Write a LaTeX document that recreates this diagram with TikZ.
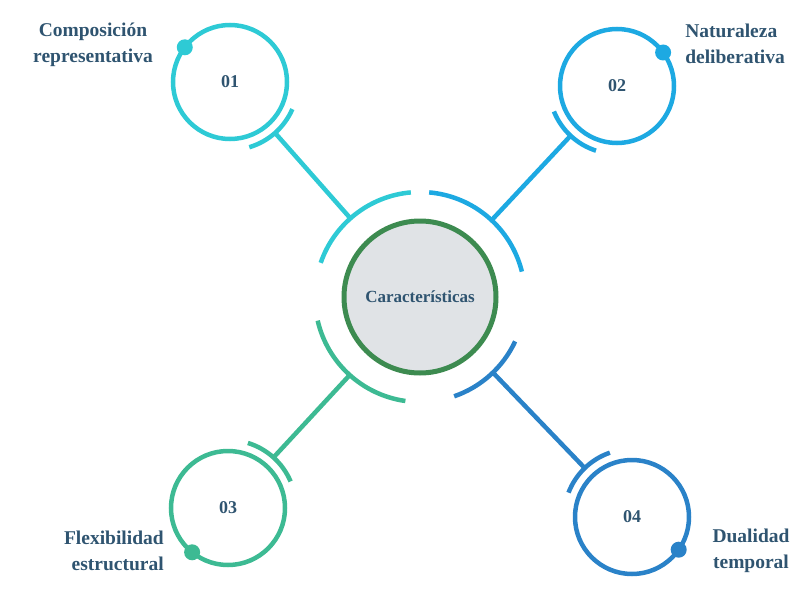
\documentclass[tikz,border=0pt]{standalone}
\usepackage{fontspec}
\setmainfont{Liberation Serif}
\begin{document}
\begin{tikzpicture}[x=1pt,y=-1pt,line width=4.5pt,
  lbl/.style={font=\bfseries\fontsize{19.5}{26}\selectfont,text=txt,align=center,inner sep=0},
  num/.style={font=\bfseries\fontsize{18}{20}\selectfont,text=txt}]
\definecolor{txt}{HTML}{2F5470}
\definecolor{cA}{HTML}{2ECAD5}
\definecolor{cB}{HTML}{1DA9E2}
\definecolor{cC}{HTML}{3DBA93}
\definecolor{cD}{HTML}{2A82C8}
\definecolor{cG}{HTML}{3D8B50}
\definecolor{cF}{HTML}{E0E3E6}
\useasboundingbox (0,0) rectangle (807,589);
\coordinate (c) at (420,297);
\node[circle,draw=cG,fill=cF,line width=5pt,minimum size=152pt,font=\bfseries\fontsize{17}{19}\selectfont,text=txt] (m) at (c) {Características};
\draw[cA] ([shift={(199:105)}]c) arc (199:265:105);
\draw[cB] ([shift={(275:105)}]c) arc (275:346:105);
\draw[cC] ([shift={(98:105)}]c) arc (98:167:105);
\draw[cD] ([shift={(25:105)}]c) arc (25:71:105);
\foreach \n/\x/\y/\col/\ang/\dot/\t in {a/230/82/cA/48.5/217.5/01, b/617/86/cB/133/324/02, c/228/508/cC/-48/129/03, d/632/517/cD/226/35/04}{
  \coordinate (s\n) at (\x,\y);
  \node[circle,draw=\col,minimum size=114pt,num] (n\n) at (s\n) {\t};
  \draw[\col] ([shift={(\ang-25:68)}]s\n) arc (\ang-25:\ang+25:68);
  \fill[\col] ([shift={(\dot:57)}]s\n) circle (8pt);
  \coordinate (p\n) at ([shift={(\ang:68)}]s\n);
}
\coordinate (qa) at ([shift={(228.5:105)}]c);
\coordinate (qb) at ([shift={(313:105)}]c);
\coordinate (qc) at ([shift={(132:105)}]c);
\coordinate (qd) at ([shift={(46:105)}]c);
\draw[cA] (qa) -- (pa);
\draw[cB] (qb) -- (pb);
\draw[cC] (qc) -- (pc);
\draw[cD] (qd) -- (pd);
\node[lbl] (la) at (93,45) {Composición\\representativa};
\node[lbl,align=left,anchor=west] (lb) at (683,44) {Naturaleza\\deliberativa};
\node[lbl,align=right,anchor=east] (lc) at (166,551) {Flexibilidad\\estructural};
\node[lbl] (ld) at (751,551) {Dualidad\\temporal};
\end{tikzpicture}
\end{document}
